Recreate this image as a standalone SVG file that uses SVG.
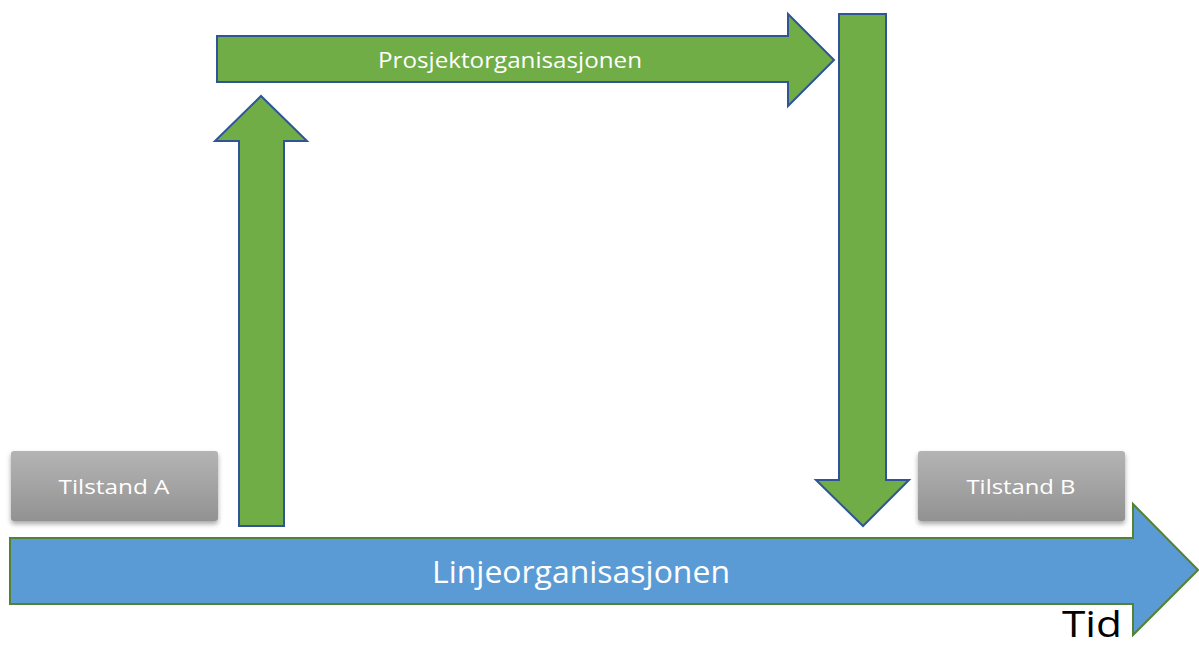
<svg xmlns="http://www.w3.org/2000/svg" width="1199" height="647" viewBox="0 0 1199 647">
  <defs>
    <linearGradient id="grayFill" x1="0" y1="0" x2="0" y2="1">
      <stop offset="0" stop-color="#b4b4b4"/>
      <stop offset="1" stop-color="#929292"/>
    </linearGradient>
    <filter id="shadow" x="-10%" y="-20%" width="120%" height="150%">
      <feDropShadow dx="0" dy="3" stdDeviation="2.5" flood-color="#000" flood-opacity="0.35"/>
    </filter>
  </defs>
  <style>
    .green { fill: #70ad47; stroke: #2f5597; stroke-width: 2; stroke-linejoin: miter; }
    .blue { fill: #5b9bd5; stroke: #548235; stroke-width: 2; }
    .state { fill: url(#grayFill); filter: url(#shadow); }
    .label { font-family: "Open Sans", "Liberation Sans", sans-serif; fill: #ffffff; font-weight: 500; }
  </style>
  <rect width="1199" height="647" fill="#ffffff"/>

  <!-- timeline arrow -->
  <g id="linjeorganisasjonen">
    <path class="blue" d="M10,538 H1133 V504 L1198,570 L1133,635 V604 H10 Z"/>
    <text class="label" x="581" y="583" font-size="31" text-anchor="middle" textLength="298" lengthAdjust="spacingAndGlyphs">Linjeorganisasjonen</text>
  </g>

  <g id="tilstand-a">
    <rect class="state" x="11" y="451" width="207" height="70" rx="3"/>
    <text class="label" x="114" y="494" font-size="20" text-anchor="middle" textLength="111" lengthAdjust="spacingAndGlyphs">Tilstand A</text>
  </g>

  <g id="tilstand-b">
    <rect class="state" x="918" y="451" width="207" height="70" rx="3"/>
    <text class="label" x="1021" y="494" font-size="20" text-anchor="middle" textLength="109" lengthAdjust="spacingAndGlyphs">Tilstand B</text>
  </g>

  <g id="prosjektorganisasjonen">
    <path class="green" d="M217,36 H788 V14 L834,60 L788,106 V82 H217 Z"/>
    <text class="label" x="510" y="68" font-size="21" text-anchor="middle" textLength="264" lengthAdjust="spacingAndGlyphs">Prosjektorganisasjonen</text>
  </g>

  <g id="connectors">
    <path id="opp" class="green" d="M239,526 V141 H215 L261,96 L307,141 H284 V526 Z"/>
    <path id="ned" class="green" d="M839,14 H886 V480 H909 L863,526 L816,480 H839 Z"/>
  </g>

  <g id="tid">
    <text x="1092" y="637" font-family="'Open Sans', 'Liberation Sans', sans-serif" font-size="36" font-weight="500" fill="#000000" text-anchor="middle" textLength="60" lengthAdjust="spacingAndGlyphs">Tid</text>
  </g>
</svg>
